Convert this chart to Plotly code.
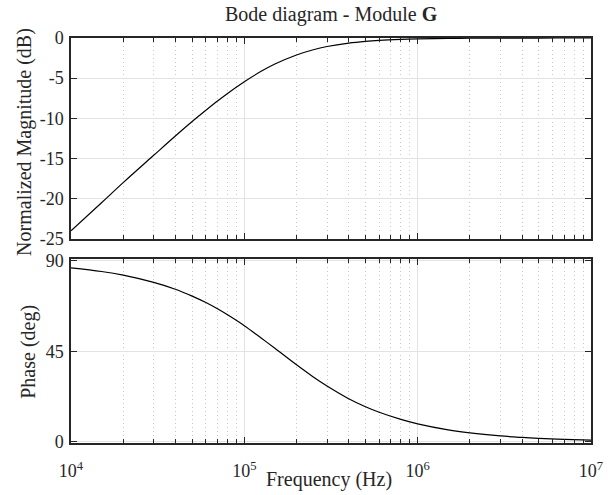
import plotly.graph_objects as go
from plotly.subplots import make_subplots

# Frequencies (Hz) and values
freq_hz = [1e4, 1.5e4, 2e4, 3e4, 4e4, 5e4, 6e4, 7e4, 8e4, 1e5, 1.25e5, 1.5e5,
           2e5, 2.5e5, 3e5, 4e5, 5e5, 6e5, 8e5, 1e6, 1.5e6, 2e6, 3e6, 4e6,
           5e6, 7e6, 1e7]
magnitude_db = [-24.0, -20.5, -18.0, -14.6, -12.2, -10.4, -9.0, -7.85, -6.9,
                -5.44, -4.15, -3.24, -2.11, -1.46, -1.06, -0.63, -0.41, -0.29,
                -0.17, -0.11, -0.05, -0.03, -0.01, -0.007, -0.004, -0.002, -0.001]
phase_deg = [86.4, 84.6, 82.8, 79.2, 75.8, 72.4, 69.2, 66.1, 63.1, 57.7, 51.6,
             46.5, 38.3, 32.3, 27.8, 21.5, 17.5, 14.75, 11.2, 9.0, 6.0, 4.5,
             3.0, 2.26, 1.81, 1.29, 0.91]

x_tickvals = [1e4, 1e5, 1e6, 1e7]
x_ticktext = ["10<sup>4</sup>", "10<sup>5</sup>", "10<sup>6</sup>", "10<sup>7</sup>"]
mag_ticks = [0, -5, -10, -15, -20, -25]
mag_ticktext = ["0", "-5", "-10", "-15", "-20", "-25"]
phase_ticks = [0, 45, 90]
phase_ticktext = ["0", "45", "90"]

FONT = "Liberation Serif"
TXT = "#262626"
AX = "#262626"
GRID = "#e3e3e3"
MGRID = "#c8c8c8"

fig = make_subplots(rows=2, cols=1, shared_xaxes=False, vertical_spacing=0.05)

fig.add_trace(go.Scatter(x=freq_hz, y=magnitude_db, mode="lines",
                         line=dict(color="black", width=1.2, shape="spline"),
                         showlegend=False), row=1, col=1)
fig.add_trace(go.Scatter(x=freq_hz, y=phase_deg, mode="lines",
                         line=dict(color="black", width=1.2, shape="spline"),
                         showlegend=False), row=2, col=1)

xcommon = dict(type="log", range=[4, 7], tickvals=x_tickvals,
               showline=True, linecolor=AX, linewidth=1.5, mirror="ticks",
               ticks="inside", ticklen=6, tickcolor=AX, tickwidth=1.2,
               showgrid=True, gridcolor=GRID, gridwidth=1,
               minor=dict(dtick="D1", ticks="inside", ticklen=4, tickcolor=AX,
                          showgrid=True, gridcolor=MGRID, griddash="1px,3px", gridwidth=1),
               zeroline=False,
               tickfont=dict(family=FONT, size=18, color=TXT))

fig.update_xaxes(**xcommon, showticklabels=False, row=1, col=1)
fig.update_xaxes(**xcommon, ticktext=x_ticktext, showticklabels=True,
                 ticklabelstandoff=11, row=2, col=1)

ycommon = dict(showline=True, linecolor=AX, linewidth=1.5, mirror="ticks",
               ticks="inside", ticklen=6, tickcolor=AX, tickwidth=1.2,
               showgrid=True, gridcolor=GRID, gridwidth=1, zeroline=False,
               ticklabelstandoff=2,
               tickfont=dict(family=FONT, size=18, color=TXT))
fig.update_yaxes(**ycommon, range=[-25, 0], tickvals=mag_ticks, ticktext=mag_ticktext,
                 domain=[0.504, 1.0], row=1, col=1)
fig.update_yaxes(**ycommon, range=[-0.5, 90.75], tickvals=phase_ticks,
                 ticktext=phase_ticktext, domain=[0.0, 0.454], row=2, col=1)

annots = [
    dict(text="Bode diagram - Module <b>G</b>", x=0.5, y=1.059, xref="paper", yref="paper",
         xanchor="center", yanchor="middle", showarrow=False,
         font=dict(family=FONT, size=20, color=TXT)),
    dict(text="Frequency (Hz)", x=0.497, y=-0.091, xref="paper", yref="paper",
         xanchor="center", yanchor="middle", showarrow=False,
         font=dict(family=FONT, size=20, color=TXT)),
    dict(text="Normalized Magnitude (dB)", x=-0.090, y=0.744, xref="paper", yref="paper",
         xanchor="center", yanchor="middle", showarrow=False, textangle=-90,
         font=dict(family=FONT, size=20, color=TXT)),
    dict(text="Phase (deg)", x=-0.081, y=0.225, xref="paper", yref="paper",
         xanchor="center", yanchor="middle", showarrow=False, textangle=-90,
         font=dict(family=FONT, size=20, color=TXT)),
]

fig.update_layout(width=614, height=495, margin=dict(l=71, r=11, t=38, b=52),
                  paper_bgcolor="white", plot_bgcolor="white",
                  annotations=annots, showlegend=False)

fig.write_html("out.html")
